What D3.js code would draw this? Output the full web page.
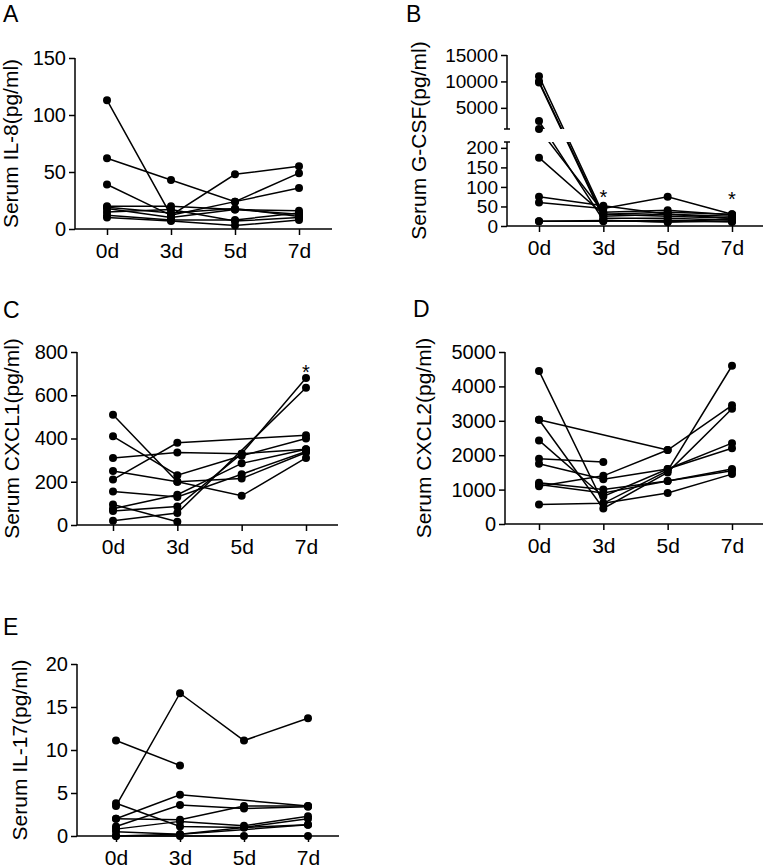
<!DOCTYPE html>
<html>
<head>
<meta charset="utf-8">
<script src="https://cdnjs.cloudflare.com/ajax/libs/d3/7.8.5/d3.min.js"></script>
<style>
body { margin: 0; background: #fff; }
text { font-family: "Liberation Sans", Arial, sans-serif; fill: #000; }
</style>
</head>
<body>
<script>
const width = 767;
const height = 866;

const days = ['0d', '3d', '5d', '7d'];

// one row per subject: 0d, 3d, 5d, 7d (null = no sample)
const il8 = [
  [113, 12, 48, 55],
  [62, 43, 24, 49],
  [39, 12, 24, 36],
  [20, 20, 17, 16],
  [18, 10, 17, 13],
  [15, 17, 7, 10],
  [10, 7, 3, 8],
  [19, 14, 18, 11],
  [12, 8, 8, 14]
];
const gcsf = [
  [11000, 30, 35, 30],
  [10000, 25, 30, 25],
  [9800, 20, 20, 15],
  [2500, 15, 10, 12],
  [1000, 35, 40, 28],
  [175, 30, 25, 20],
  [75, 52, 30, 20],
  [60, 45, 75, 30],
  [12, 12, 15, 10],
  [12, 14, 10, 18]
];
const cxcl1 = [
  [510, 200, 215, 335],
  [410, 230, 320, 400],
  [310, 335, 330, 350],
  [250, 200, 135, 310],
  [210, 380, null, 415],
  [155, 130, 235, 340],
  [95, 15, null, null],
  [75, 140, 285, 350],
  [65, 85, 330, 680],
  [20, 55, null, 635]
];
const cxcl2 = [
  [4450, 600, 1550, 4600],
  [3030, null, 2150, null],
  [3030, 450, 1500, 3350],
  [2430, 800, 1600, 2350],
  [1900, 1800, null, null],
  [1750, 1300, 1600, 2200],
  [1200, 1000, 1250, 1600],
  [1150, 900, 1250, 1550],
  [1100, 1400, 2150, 3450],
  [570, 600, 900, 1450]
];
const il17 = [
  [3.5, 16.6, 11.1, 13.7],
  [11.1, 8.2, null, null],
  [2.0, 4.8, null, 3.5],
  [3.8, 1.1, 1.0, 1.3],
  [1.1, 3.6, 3.2, 3.4],
  [2.0, 1.9, 3.5, 3.5],
  [0.8, 1.7, 1.2, 2.3],
  [0.5, 0.2, 1.0, 2.0],
  [0, 0, 0, 0],
  [0, 0.2, null, 1.3]
];

const il8Ticks = [0, 50, 100, 150];
const gcsfTicks = [0, 50, 100, 150, 200, 5000, 10000, 15000];
const cxcl1Ticks = [0, 200, 400, 600, 800];
const cxcl2Ticks = [0, 1000, 2000, 3000, 4000, 5000];
const il17Ticks = [0, 5, 10, 15, 20];

// significance stars: [day, height in data units]
const gcsfStars = [['3d', 85], ['7d', 80]];
const cxcl1Stars = [['7d', 727]];

const svg = d3.select('body')
  .append('svg')
  .attr('width', width)
  .attr('height', height);

const panels = [
  {letter: 'A', lx: 3, ly: 22, title: 'Serum IL-8(pg/ml)', tx: 18,
   axisX: 75, xEnd: 332, dayRange: [107, 299], tickFont: 20,
   y: d3.scaleLinear().domain([0, 150]).range([229, 58]),
   segments: [[0, 150]], ticks: il8Ticks, data: il8, stars: []},
  {letter: 'B', lx: 406, ly: 22, title: 'Serum G-CSF(pg/ml)', tx: 426,
   axisX: 507, xEnd: 763, dayRange: [539, 732], tickFont: 19,
   // broken axis: 0-215 below the gap, 1000-15000 above it
   y: d3.scaleLinear().domain([0, 215, 1000, 15000]).range([226, 142, 129, 55]),
   segments: [[0, 215], [1000, 15000]], ticks: gcsfTicks, data: gcsf, stars: gcsfStars},
  {letter: 'C', lx: 3, ly: 318, title: 'Serum CXCL1(pg/ml)', tx: 19,
   axisX: 77, xEnd: 338, dayRange: [113, 306], tickFont: 20,
   y: d3.scaleLinear().domain([0, 800]).range([525, 352]),
   segments: [[0, 800]], ticks: cxcl1Ticks, data: cxcl1, stars: cxcl1Stars},
  {letter: 'D', lx: 413, ly: 317, title: 'Serum CXCL2(pg/ml)', tx: 431,
   axisX: 505, xEnd: 763, dayRange: [539, 732], tickFont: 20,
   y: d3.scaleLinear().domain([0, 5000]).range([524, 352]),
   segments: [[0, 5000]], ticks: cxcl2Ticks, data: cxcl2, stars: []},
  {letter: 'E', lx: 3, ly: 635, title: 'Serum IL-17(pg/ml)', tx: 27,
   axisX: 77, xEnd: 339, dayRange: [116, 308], tickFont: 20,
   y: d3.scaleLinear().domain([0, 20]).range([836, 664]),
   segments: [[0, 20]], ticks: il17Ticks, data: il17, stars: []}
];

panels.forEach(drawPanel);

function drawPanel(p, i) {
  const x = d3.scalePoint().domain(days).range(p.dayRange);
  const y = p.y;
  const y0 = y(0);
  const g = svg.append('g');

  g.append('text')
    .attr('x', p.lx).attr('y', p.ly)
    .style('font-size', '23px')
    .text(p.letter);

  const yTop = y(p.segments[p.segments.length - 1][1]);
  g.append('text')
    .attr('transform', 'translate(' + p.tx + ',' + ((yTop + y0) / 2) + ') rotate(-90)')
    .attr('text-anchor', 'middle')
    .style('font-size', '21px')
    .text(p.title);

  // y axis
  const yAxis = g.append('g')
    .attr('transform', 'translate(' + p.axisX + ',0)')
    .call(d3.axisLeft(y).tickValues(p.ticks).tickSize(6).tickSizeOuter(0).tickPadding(3)
      .tickFormat(d3.format('d')));
  yAxis.select('.domain').remove();
  yAxis.selectAll('line').attr('stroke-width', 1.5);
  yAxis.selectAll('text').style('font-size', p.tickFont + 'px').attr('font-family', null);

  p.segments.forEach(function(s) {
    g.append('line')
      .attr('x1', p.axisX).attr('x2', p.axisX)
      .attr('y1', y(s[0])).attr('y2', y(s[1]))
      .attr('stroke', '#000').attr('stroke-width', 1.5);
  });
  if (p.segments.length > 1) {
    // caps at the break
    [y(p.segments[0][1]), y(p.segments[1][0])].forEach(function(yy) {
      g.append('line')
        .attr('x1', p.axisX - 3).attr('x2', p.axisX + 3)
        .attr('y1', yy).attr('y2', yy)
        .attr('stroke', '#000').attr('stroke-width', 1.5);
    });
  }

  // x axis
  const xAxis = g.append('g')
    .attr('transform', 'translate(0,' + y0 + ')')
    .call(d3.axisBottom(x).tickSize(6).tickSizeOuter(0).tickPadding(8));
  xAxis.select('.domain').remove();
  xAxis.selectAll('line').attr('stroke-width', 1.5);
  xAxis.selectAll('text').style('font-size', '21px').attr('font-family', null);
  g.append('line')
    .attr('x1', p.axisX).attr('x2', p.xEnd)
    .attr('y1', y0).attr('y2', y0)
    .attr('stroke', '#000').attr('stroke-width', 1.5);

  // clip lines to the axis segments so the break shows through
  let clipUrl = null;
  if (p.segments.length > 1) {
    const clip = svg.append('clipPath').attr('id', 'clip' + i);
    p.segments.forEach(function(s, k) {
      const top = k === p.segments.length - 1 ? 0 : y(s[1]);
      const bottom = k === 0 ? height : y(s[0]);
      clip.append('rect')
        .attr('x', 0).attr('width', width)
        .attr('y', top).attr('height', bottom - top);
    });
    clipUrl = 'url(#clip' + i + ')';
  }

  const line = d3.line()
    .x(function(d) { return x(d.day); })
    .y(function(d) { return y(d.v); });

  const series = p.data.map(function(row) {
    return row.map(function(v, j) { return {day: days[j], v: v}; })
      .filter(function(d) { return d.v !== null; });
  });

  g.append('g')
    .attr('clip-path', clipUrl)
    .selectAll('path')
    .data(series)
    .enter().append('path')
    .attr('d', line)
    .attr('fill', 'none')
    .attr('stroke', '#000')
    .attr('stroke-width', 1.5);

  g.append('g')
    .selectAll('circle')
    .data(series.flat())
    .enter().append('circle')
    .attr('cx', function(d) { return x(d.day); })
    .attr('cy', function(d) { return y(d.v); })
    .attr('r', 4)
    .attr('fill', '#000');

  g.selectAll('.star')
    .data(p.stars)
    .enter().append('text')
    .attr('class', 'star')
    .attr('x', function(d) { return x(d[0]); })
    .attr('y', function(d) { return y(d[1]) + 11; })
    .attr('text-anchor', 'middle')
    .style('font-size', '20px')
    .text('*');
}
</script>
</body>
</html>
